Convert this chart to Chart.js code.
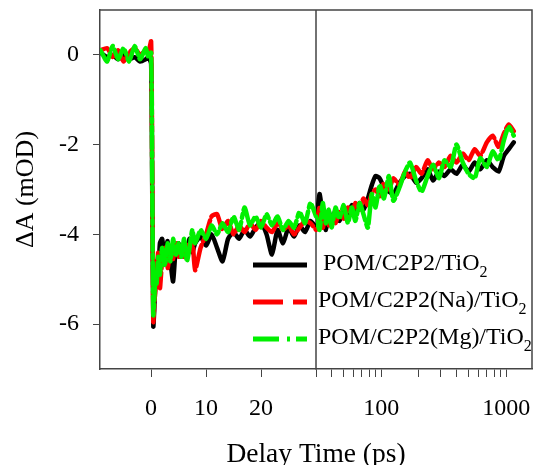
<!DOCTYPE html>
<html>
<head>
<meta charset="utf-8">
<script src="https://cdn.jsdelivr.net/npm/chart.js@4.4.1/dist/chart.umd.min.js"></script>
<style>
html, body { margin: 0; padding: 0; background: #fff; }
</style>
</head>
<body>
<canvas id="kinetics" width="537" height="465"></canvas>
<script>
// delay times (ps): linear part up to 30 ps, log part after the break
const tLinear = [-9.2, -8, -7, -6, -5, -4, -3, -2, -1, -0.5, 0, 0.2, 0.4, 0.6, 0.8, 1, 1.3, 1.6, 2, 2.5, 3, 3.5, 4, 4.5, 5, 5.5, 6, 6.5, 7, 7.5, 8, 9, 10, 11, 12, 13, 14, 15, 16, 17, 18, 19, 20, 21, 22, 23, 24, 25, 26, 27, 28, 29, 30];
const tLog = [30, 32, 34, 36, 38, 40, 43, 46, 50, 54, 58, 62, 67, 72, 78, 84, 90, 97, 105, 115, 125, 140, 155, 170, 190, 210, 235, 260, 290, 320, 360, 400, 450, 500, 560, 620, 700, 780, 870, 960, 1050, 1150];

// ΔA (mOD) for each sample
const blackLinear = [0.05, -0.05, 0.0, -0.1, 0.0, -0.1, -0.05, -0.15, -0.1, -0.05, -0.2, -3.0, -6.05, -5.6, -5.0, -4.6, -4.9, -4.2, -4.1, -4.5, -4.15, -4.6, -5.05, -4.3, -4.2, -4.5, -4.2, -4.35, -4.1, -4.4, -4.2, -4.05, -4.25, -4.0, -4.3, -4.6, -4.1, -3.95, -4.1, -3.9, -4.05, -3.85, -3.75, -4.0, -4.45, -3.9, -4.2, -3.85, -4.05, -3.8, -3.95, -3.7, -3.85];
const blackLog = [-3.85, -3.1, -3.6, -3.9, -3.5, -3.75, -3.45, -3.7, -3.5, -3.6, -3.35, -3.5, -3.3, -3.45, -3.2, -2.9, -2.7, -2.75, -2.95, -3.05, -3.1, -2.85, -2.7, -2.65, -2.85, -2.75, -2.55, -2.8, -2.6, -2.7, -2.55, -2.65, -2.45, -2.6, -2.4, -2.55, -2.35, -2.5, -2.6, -2.25, -2.1, -1.95];

const redLinear = [0.1, 0.15, -0.05, 0.1, -0.15, 0.05, 0.15, 0.0, 0.1, 0.05, 0.3, -2.5, -5.95, -5.5, -5.2, -4.8, -4.4, -5.2, -4.6, -4.3, -4.75, -4.4, -4.55, -4.2, -4.5, -4.3, -4.5, -4.2, -4.35, -4.1, -4.8, -4.3, -4.0, -3.6, -3.55, -3.9, -3.7, -4.0, -3.8, -3.95, -3.75, -3.9, -3.7, -3.85, -3.95, -3.75, -3.9, -3.8, -4.0, -3.85, -3.7, -3.75, -3.9];
const redLog = [-3.9, -3.4, -3.85, -3.55, -3.8, -3.6, -3.75, -3.5, -3.65, -3.4, -3.55, -3.3, -3.45, -3.2, -3.35, -3.1, -3.0, -3.15, -2.85, -3.0, -2.75, -2.9, -2.6, -2.75, -2.5, -2.65, -2.35, -2.55, -2.4, -2.5, -2.25, -2.4, -2.2, -2.35, -2.1, -2.25, -1.95, -1.8, -2.05, -1.75, -1.55, -1.7];

const greenLinear = [0.1, -0.15, 0.2, -0.1, 0.15, -0.15, 0.2, -0.1, 0.15, -0.05, 0.05, -2.8, -5.8, -5.4, -4.9, -5.1, -4.5, -4.9, -4.3, -4.7, -4.2, -4.6, -4.1, -4.45, -4.2, -4.5, -4.1, -4.6, -4.3, -3.9, -4.2, -3.9, -4.1, -3.8, -4.0, -3.75, -3.95, -3.6, -3.9, -3.4, -3.8, -3.6, -3.85, -3.55, -3.8, -3.6, -3.9, -3.7, -3.85, -3.5, -3.75, -3.3, -3.6];
const greenLog = [-3.6, -3.9, -3.3, -3.75, -3.45, -3.85, -3.4, -3.65, -3.35, -3.75, -3.4, -3.7, -3.3, -3.55, -3.85, -3.1, -3.4, -2.9, -3.2, -2.7, -3.25, -2.95, -2.6, -2.4, -2.8, -3.05, -2.7, -2.45, -2.75, -2.35, -2.5, -2.0, -2.4, -2.65, -2.75, -2.3, -2.5, -2.15, -2.35, -1.9, -1.6, -1.8];

const seriesNames = ['POM/C2P2/TiO', 'POM/C2P2(Na)/TiO', 'POM/C2P2(Mg)/TiO'];
const seriesColors = ['#000000', '#ff0000', '#00f000'];
const yTicks = [-6, -4, -2, 0];
const linTicks = [0, 10, 20];
const logLabels = [100, 1000];
const logMinor = [30, 40, 50, 60, 70, 80, 90, 200, 300, 400, 500, 600, 700, 800, 900];

const serif = '"Liberation Serif", "Times New Roman", serif';

function pairs(ts, vs) {
    return ts.map((t, i) => ({x: t, y: vs[i]}));
}

const lineDashes = [[], [22, 4], [22, 4, 4, 4]];
const keyDashes = [[], [30, 10], [26, 8, 3, 6]];
const drawOrder = [3, 2, 1];
const linearSets = [blackLinear, redLinear, greenLinear];
const logSets = [blackLog, redLog, greenLog];

let datasets = [];
seriesNames.forEach((name, i) => {
    const style = {
        borderColor: seriesColors[i],
        borderWidth: 4.5,
        borderDash: lineDashes[i],
        borderCapStyle: 'round',
        borderJoinStyle: 'round',
        pointRadius: 0,
        tension: 0.2,
        fill: false,
        order: drawOrder[i],
        yAxisID: 'y'
    };
    datasets.push(Object.assign({label: name, data: pairs(tLinear, linearSets[i]), xAxisID: 'xLin'}, style));
    datasets.push(Object.assign({label: name, data: pairs(tLog, logSets[i]), xAxisID: 'xLog'}, style));
});

// frame, axis break line and x title
const framePlugin = {
    id: 'frame',
    beforeDatasetsDraw(chart) {
        const {ctx, chartArea} = chart;
        const xb = chart.scales.xLog.getPixelForValue(30);
        ctx.save();
        ctx.strokeStyle = '#444';
        ctx.lineWidth = 1.5;
        ctx.beginPath();
        ctx.moveTo(chartArea.left, chartArea.top);
        ctx.lineTo(chartArea.right, chartArea.top);
        ctx.lineTo(chartArea.right, chartArea.bottom);
        ctx.moveTo(xb, chartArea.top);
        ctx.lineTo(xb, chartArea.bottom);
        ctx.stroke();
        ctx.restore();
    },
    afterDraw(chart) {
        const {ctx, chartArea} = chart;
        ctx.save();
        ctx.fillStyle = '#000';
        ctx.font = '27.5px ' + serif;
        ctx.textAlign = 'center';
        ctx.textBaseline = 'middle';
        ctx.fillText('Delay Time (ps)', (chartArea.left + chartArea.right) / 2, chartArea.bottom + 86);
        ctx.restore();
    }
};

const keyPlugin = {
    id: 'sampleKey',
    afterDatasetsDraw(chart) {
        const {ctx, chartArea} = chart;
        const x0 = chartArea.left + 153, x1 = chartArea.left + 207;
        const rowY = [255, 292, 329].map(v => chartArea.top + v);
        const textX = [223, 218, 218].map(v => chartArea.left + v);
        seriesNames.forEach((name, i) => {
            ctx.save();
            ctx.strokeStyle = seriesColors[i];
            ctx.lineWidth = 5;
            ctx.setLineDash(keyDashes[i]);
            ctx.beginPath();
            ctx.moveTo(x0, rowY[i]);
            ctx.lineTo(x1, rowY[i]);
            ctx.stroke();
            ctx.setLineDash([]);
            ctx.fillStyle = '#000';
            ctx.font = '24px ' + serif;
            ctx.textBaseline = 'middle';
            ctx.fillText(name, textX[i], rowY[i] - 1);
            const w = ctx.measureText(name).width;
            ctx.font = '16px ' + serif;
            ctx.fillText('2', textX[i] + w, rowY[i] + 8);
            ctx.restore();
        });
    }
};

const tickFont = {family: serif, size: 24};

function noOverhang(scale) {
    scale.paddingTop = 0;
    scale.paddingBottom = 0;
    scale.paddingLeft = 0;
    scale.paddingRight = 0;
}

new Chart(document.getElementById('kinetics'), {
    type: 'line',
    data: {datasets: datasets},
    options: {
        responsive: false,
        animation: false,
        layout: {padding: {top: 10, right: 5, left: 0, bottom: 0}},
        plugins: {legend: {display: false}, tooltip: {enabled: false}},
        scales: {
            xLin: {
                type: 'linear',
                axis: 'x',
                position: 'bottom',
                stack: 'time',
                stackWeight: 1,
                min: -9.3,
                max: 30,
                afterBuildTicks: (scale) => { scale.ticks = linTicks.map(v => ({value: v})); },
                afterFit: (scale) => { scale.height = 96; noOverhang(scale); },
                grid: {drawOnChartArea: false, tickLength: 8, color: '#444'},
                border: {color: '#444', width: 1.5},
                ticks: {font: tickFont, color: '#000', padding: 17, maxRotation: 0, autoSkip: false}
            },
            xLog: {
                type: 'logarithmic',
                axis: 'x',
                position: 'bottom',
                stack: 'time',
                stackWeight: 1,
                min: 30,
                max: 1611,
                afterBuildTicks: (scale) => {
                    scale.ticks = logMinor.concat(logLabels).sort((a, b) => a - b).map(v => ({value: v}));
                },
                afterFit: (scale) => { scale.height = 96; noOverhang(scale); },
                grid: {drawOnChartArea: false, tickLength: 8, color: '#444'},
                border: {color: '#444', width: 1.5},
                ticks: {
                    font: tickFont, color: '#000', padding: 17, maxRotation: 0, minRotation: 0, autoSkip: false,
                    callback: (v) => logLabels.includes(v) ? String(v) : ''
                }
            },
            y: {
                type: 'linear',
                position: 'left',
                min: -7,
                max: 1,
                afterBuildTicks: (scale) => { scale.ticks = yTicks.map(v => ({value: v})); },
                afterFit: (scale) => { scale.width = 100; noOverhang(scale); },
                grid: {drawOnChartArea: false, tickLength: 7, color: '#444'},
                border: {color: '#444', width: 1.5},
                ticks: {font: tickFont, color: '#000', padding: 14},
                title: {
                    display: true,
                    text: 'ΔA (mOD)',
                    font: {family: serif, size: 26},
                    color: '#000',
                    padding: {top: 11, bottom: 0}
                }
            }
        }
    },
    plugins: [framePlugin, keyPlugin]
});
</script>
</body>
</html>
